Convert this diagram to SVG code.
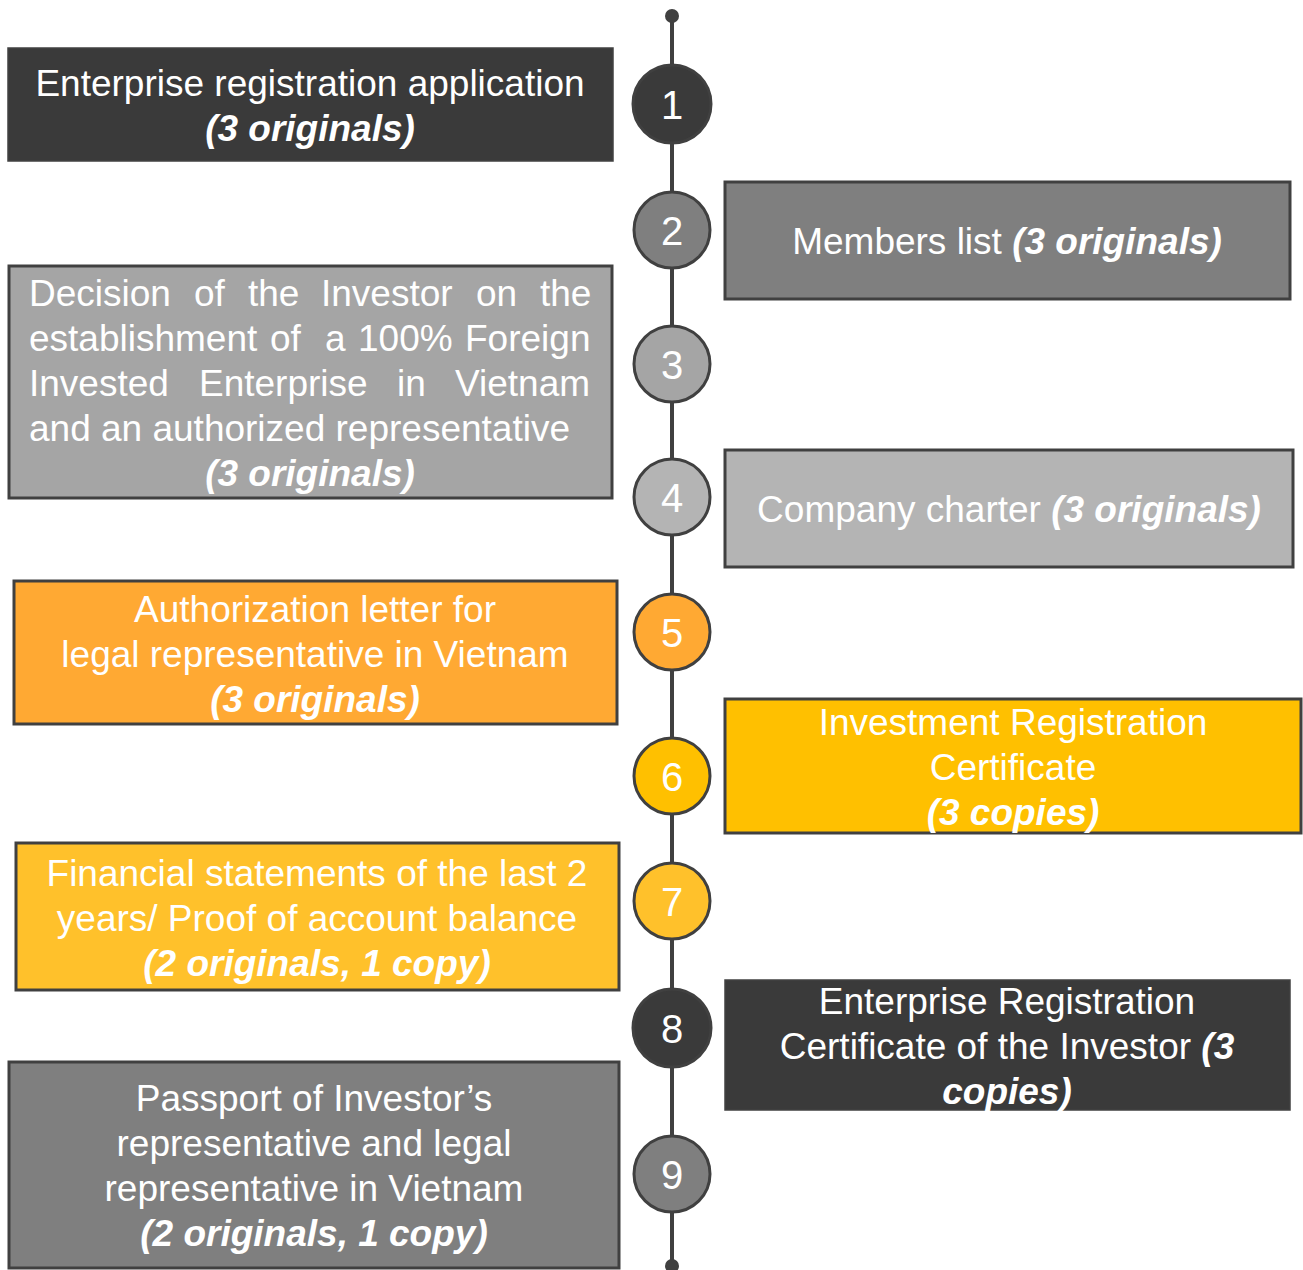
<svg xmlns="http://www.w3.org/2000/svg" width="1303" height="1270" viewBox="0 0 1303 1270">
<style>
text{font-family:"Liberation Sans",Arial,sans-serif;fill:#ffffff;font-size:37px}
.c{text-anchor:middle}
.b{font-weight:bold;font-style:italic}
.box{stroke:#404040;stroke-width:3}
.circ{stroke:#404040;stroke-width:3}
.num{font-size:40px;text-anchor:middle}
.line{stroke:#404040;stroke-width:4;fill:none}
</style>
<rect width="1303" height="1270" fill="#ffffff"/>
<g id="connectors">
<line class="line" x1="672" y1="16" x2="672" y2="1266"/>
<circle cx="672" cy="16" r="7" fill="#404040"/>
<circle cx="672" cy="1266" r="7" fill="#404040"/>
</g>
<g id="step1">
<circle class="circ" cx="672" cy="104" r="39" fill="#3a3a3a" stroke="#3f3f3f"/>
<text class="num" x="672" y="119">1</text>
</g>
<g id="step2">
<circle class="circ" cx="672" cy="230" r="38" fill="#7f7f7f"/>
<text class="num" x="672" y="245">2</text>
</g>
<g id="step3">
<circle class="circ" cx="672" cy="364" r="38" fill="#a5a5a5"/>
<text class="num" x="672" y="379">3</text>
</g>
<g id="step4">
<circle class="circ" cx="672" cy="497" r="38" fill="#b4b4b4"/>
<text class="num" x="672" y="512">4</text>
</g>
<g id="step5">
<circle class="circ" cx="672" cy="632" r="38" fill="#ffa933"/>
<text class="num" x="672" y="647">5</text>
</g>
<g id="step6">
<circle class="circ" cx="672" cy="776" r="38" fill="#ffc000"/>
<text class="num" x="672" y="791">6</text>
</g>
<g id="step7">
<circle class="circ" cx="672" cy="901" r="38" fill="#ffc12b"/>
<text class="num" x="672" y="916">7</text>
</g>
<g id="step8">
<circle class="circ" cx="672" cy="1028" r="39" fill="#3a3a3a" stroke="#3f3f3f"/>
<text class="num" x="672" y="1043">8</text>
</g>
<g id="step9">
<circle class="circ" cx="672" cy="1174" r="38" fill="#7f7f7f"/>
<text class="num" x="672" y="1189">9</text>
</g>

<g id="doc1">
<rect x="8" y="48" width="605" height="113" fill="#3a3a3a" stroke="#424242" stroke-width="1.5"/>
<text class="c" x="310" y="96">Enterprise registration application</text>
<text class="c b" x="310" y="141">(3 originals)</text>
</g>
<g id="doc2">
<rect class="box" x="725" y="182" width="565" height="117" fill="#7f7f7f"/>
<text class="c" x="1007" y="254">Members list <tspan class="b">(3 originals)</tspan></text>
</g>
<g id="doc3">
<rect class="box" x="9" y="266" width="603" height="232" fill="#a5a5a5"/>
<text y="306"><tspan x="29">Decision</tspan><tspan x="194">of</tspan><tspan x="248">the</tspan><tspan x="321">Investor</tspan><tspan x="476">on</tspan><tspan x="540">the</tspan></text>
<text y="351"><tspan x="29">establishment</tspan><tspan x="270">of</tspan><tspan x="325">a</tspan><tspan x="358">100%</tspan><tspan x="465">Foreign</tspan></text>
<text y="396"><tspan x="29">Invested</tspan><tspan x="199">Enterprise</tspan><tspan x="397">in</tspan><tspan x="455">Vietnam</tspan></text>
<text x="29" y="441">and an authorized representative</text>
<text class="c b" x="310" y="486">(3 originals)</text>
</g>
<g id="doc4">
<rect class="box" x="725" y="450" width="568" height="117" fill="#b4b4b4"/>
<text class="c" x="1009" y="522">Company charter <tspan class="b">(3 originals)</tspan></text>
</g>
<g id="doc5">
<rect class="box" x="14" y="581" width="603" height="143" fill="#ffa933"/>
<text class="c" x="315" y="622">Authorization letter for</text>
<text class="c" x="315" y="667">legal representative in Vietnam</text>
<text class="c b" x="315" y="712">(3 originals)</text>
</g>
<g id="doc6">
<rect class="box" x="725" y="699" width="576" height="134" fill="#ffc000"/>
<text class="c" x="1013" y="735">Investment Registration</text>
<text class="c" x="1013" y="780">Certificate</text>
<text class="c b" x="1013" y="825">(3 copies)</text>
</g>
<g id="doc7">
<rect class="box" x="16" y="843" width="603" height="147" fill="#ffc12b"/>
<text class="c" x="317" y="886">Financial statements of the last 2</text>
<text class="c" x="317" y="931">years/ Proof of account balance</text>
<text class="c b" x="317" y="976">(2 originals, 1 copy)</text>
</g>
<g id="doc8">
<rect x="725" y="980" width="565" height="130" fill="#3a3a3a" stroke="#424242" stroke-width="1.5"/>
<text class="c" x="1007" y="1014">Enterprise Registration</text>
<text class="c" x="1007" y="1059">Certificate of the Investor <tspan class="b">(3</tspan></text>
<text class="c b" x="1007" y="1104">copies)</text>
</g>
<g id="doc9">
<rect class="box" x="9" y="1062" width="610" height="206" fill="#7f7f7f"/>
<text class="c" x="314" y="1111">Passport of Investor’s</text>
<text class="c" x="314" y="1156">representative and legal</text>
<text class="c" x="314" y="1201">representative in Vietnam</text>
<text class="c b" x="314" y="1246">(2 originals, 1 copy)</text>
</g>
</svg>
